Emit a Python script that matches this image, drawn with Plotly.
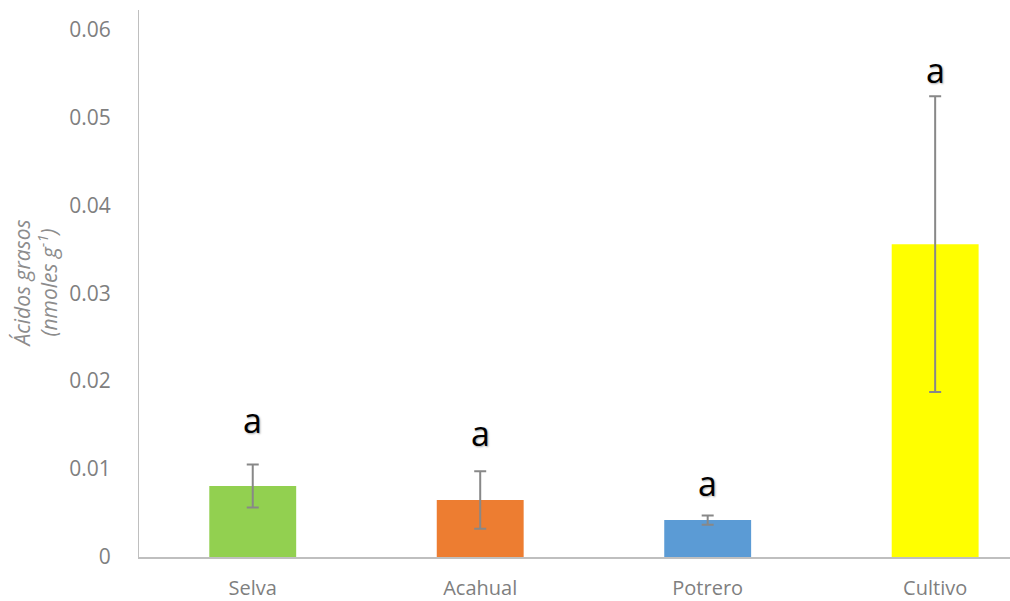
import plotly.graph_objects as go

# Fatty acid content by land use
categories = ["Selva", "Acahual", "Potrero", "Cultivo"]
means = [0.00807, 0.00648, 0.00420, 0.03557]
errors = [0.00244, 0.00328, 0.00053, 0.01682]
colors = ["#92d050", "#ed7d31", "#5b9bd5", "#ffff00"]
letters = ["a", "a", "a", "a"]
letter_y = [0.01557, 0.01409, 0.00841, 0.05534]
y_ticks = [0, 0.01, 0.02, 0.03, 0.04, 0.05, 0.06]
y_tick_text = ["0", "0.01", "0.02", "0.03", "0.04", "0.05", "0.06"]

fig = go.Figure()
fig.add_trace(go.Bar(
    x=categories,
    y=means,
    width=0.382,
    marker=dict(color=colors, line=dict(width=0)),
    error_y=dict(type="data", array=errors, visible=True,
                 color="#888888", thickness=2, width=6),
    showlegend=False,
))

for cat, lab, ly in zip(categories, letters, letter_y):
    fig.add_annotation(
        x=cat, y=ly, text=lab, showarrow=False,
        font=dict(family="Open Sans", size=34, color="#000000",
                  shadow="1px 1px 2px rgba(0,0,0,0.35)"),
        xanchor="center", yanchor="middle",
    )

fig.add_annotation(
    xref="paper", yref="paper", x=0, y=0.5, xshift=-104,
    text="<i>Ácidos grasos<br>(nmoles g<sup>-1</sup>)</i>",
    textangle=-90, showarrow=False, xanchor="center", yanchor="middle",
    font=dict(family="Open Sans", size=21, color="#8c8c8c"),
)

fig.update_layout(
    width=1010, height=601,
    margin=dict(l=139, r=0, t=10, b=44),
    paper_bgcolor="white", plot_bgcolor="white",
    font=dict(family="Open Sans", color="#7f7f7f"),
    xaxis=dict(
        range=[-0.5, 3.329],
        showline=True, linecolor="#bfbfbf", linewidth=2,
        showgrid=False, ticks="",
        ticklabelstandoff=12,
        tickfont=dict(size=20, color="#7f7f7f"),
    ),
    yaxis=dict(
        range=[0, 0.0622],
        tickvals=y_ticks, ticktext=y_tick_text,
        showline=True, linecolor="#bfbfbf", linewidth=1,
        showgrid=False, zeroline=False, ticks="",
        ticklabelstandoff=23,
        tickfont=dict(size=21, color="#7f7f7f"),
    ),
)

fig.write_html("out.html")
